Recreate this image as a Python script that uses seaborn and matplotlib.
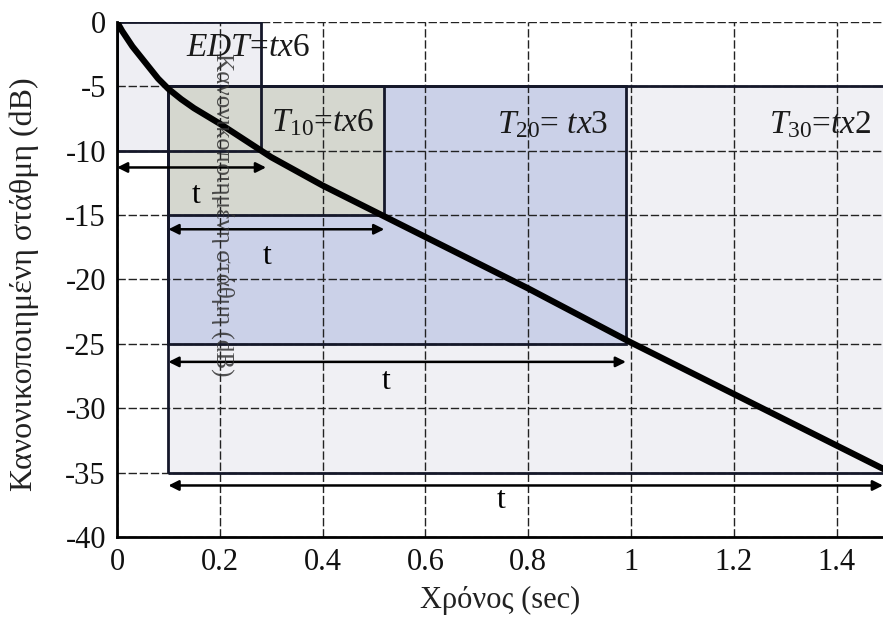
import matplotlib
matplotlib.use("Agg")
import matplotlib.pyplot as plt
import seaborn as sns
import numpy as np
import pandas as pd
from matplotlib.patches import Rectangle

# ---- data ----
time_s = [0, 0.01, 0.02, 0.03, 0.04, 0.05, 0.06, 0.07, 0.08, 0.09, 0.1,
          0.125, 0.15, 0.175, 0.2, 0.25, 0.3, 0.35, 0.4, 0.5, 0.6, 0.7, 0.8,
          0.9, 1.0, 1.1, 1.2, 1.3, 1.4, 1.5]
level_db = [0, -0.7, -1.3, -1.9, -2.4, -2.9, -3.4, -3.9, -4.4, -4.8, -5.2,
            -6.0, -6.7, -7.3, -7.9, -9.2, -10.5, -11.6, -12.7, -14.7, -16.7,
            -18.7, -20.7, -22.8, -24.9, -26.9, -28.9, -30.9, -32.9, -34.9]

box_names = ["T30", "T20", "EDT", "T10"]
box_x0 = [0.1, 0.1, 0.0, 0.1]
box_x1 = [1.6, 0.99, 0.28, 0.52]
box_top = [-5, -5, 0, -5]
box_bot = [-35, -25, -10, -15]
box_labels = [r"$T_{\mathrm{30}}$=$tx$2", r"$T_{\mathrm{20}}$= $tx$3",
              r"$EDT$=$tx$6", r"$T_{\mathrm{10}}$=$tx$6"]
label_x = [1.367, 0.848, 0.255, 0.40]
label_y = [-8.0, -8.0, -2.0, -7.8]

arrow_x0 = [0.1, 0.1, 0.0, 0.1]
arrow_x1 = [1.49, 0.99, 0.29, 0.52]
arrow_y = [-36.0, -26.4, -11.3, -16.1]
t_x = [0.748, 0.523, 0.155, 0.293]
t_y = [-37.2, -27.9, -13.5, -18.2]

x_ticks = [0, 0.2, 0.4, 0.6, 0.8, 1.0, 1.2, 1.4]
x_tick_labels = ["0", "0.2", "0.4", "0.6", "0.8", "1", "1.2", "1.4"]
y_ticks = [0, -5, -10, -15, -20, -25, -30, -35, -40]

xlabel = "Χρόνος (sec)"
ylabel = "Κανονικοποιημένη στάθμη (dB)"

# ---- style ----
sns.set_theme(style="white")
plt.rcParams["font.family"] = ["Liberation Serif", "DejaVu Serif"]
plt.rcParams["mathtext.fontset"] = "custom"
plt.rcParams["mathtext.rm"] = "Liberation Serif"
plt.rcParams["mathtext.it"] = "Liberation Serif:italic"
plt.rcParams["axes.unicode_minus"] = False

fills = {"T30": "#f0f0f4", "T20": "#cbd1e8", "EDT": "#eeeef3", "T10": "#d5d7cf"}
fill_z = {"T30": 1.0, "T20": 1.2, "EDT": 1.4, "T10": 1.6}
edge_col = "#15182a"

fig = plt.figure(figsize=(8.83, 6.21), dpi=100)
ax = fig.add_axes([0.1325, 0.1353, 0.8675, 0.8293])

df = pd.DataFrame({"t": time_s, "L": level_db})

for name, x0, x1, yt, yb in zip(box_names, box_x0, box_x1, box_top, box_bot):
    ax.add_patch(Rectangle((x0, yb), x1 - x0, yt - yb, facecolor=fills[name],
                           edgecolor="none", zorder=fill_z[name]))
for name, x0, x1, yt, yb in zip(box_names, box_x0, box_x1, box_top, box_bot):
    ax.add_patch(Rectangle((x0, yb), x1 - x0, yt - yb, facecolor="none",
                           edgecolor=edge_col, linewidth=2.0, zorder=3))

sns.lineplot(data=df, x="t", y="L", ax=ax, color="black", linewidth=4.5,
             zorder=4)

for name, lab, lx, ly in zip(box_names, box_labels, label_x, label_y):
    ax.text(lx, ly, lab, ha="center", va="center", fontsize=24, color="#1a1a1a",
            zorder=6)

for a0, a1, ay, tx, ty in zip(arrow_x0, arrow_x1, arrow_y, t_x, t_y):
    ax.annotate("", xy=(a1, ay), xytext=(a0, ay),
                arrowprops=dict(arrowstyle="<|-|>", color="black", lw=1.8,
                                mutation_scale=15, shrinkA=0, shrinkB=0),
                zorder=5)
    ax.text(tx, ty, "t", ha="center", va="center", fontsize=23, color="black",
            zorder=6)

# faint bleed-through text from the scanned page
ax.text(0.205, -15.0, ylabel, rotation=-90, ha="center", va="center",
        fontsize=18, color="#333333", alpha=0.85, zorder=5)

ax.set_xlim(0, 1.49)
ax.set_ylim(-40, 0)
ax.set_xticks(x_ticks)
ax.set_xticklabels(x_tick_labels)
ax.set_yticks(y_ticks)
ax.tick_params(axis="both", labelsize=22, length=0, pad=8, colors="#111111")
ax.grid(True, color="#222222", linestyle=(0, (6, 2)), linewidth=1.0)
ax.set_axisbelow(False)
ax.set_xlabel(xlabel, fontsize=22, color="#222222")
ax.set_ylabel(ylabel, fontsize=23, color="#222222")
ax.xaxis.set_label_coords(0.5, -0.095)
ax.yaxis.set_label_coords(-0.102, 0.49)

for s in ["top", "right"]:
    ax.spines[s].set_visible(False)
for s in ["left", "bottom"]:
    ax.spines[s].set_color("black")
    ax.spines[s].set_linewidth(2.0)
    ax.spines[s].set_zorder(7)

fig.savefig("out.png", dpi=100)
